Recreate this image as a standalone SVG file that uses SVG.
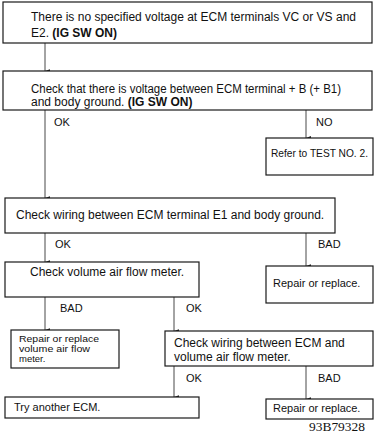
<svg xmlns="http://www.w3.org/2000/svg" width="375" height="433" viewBox="0 0 375 433">
<defs>
<marker id="ah" viewBox="0 0 6 8" refX="3" refY="8" markerWidth="4" markerHeight="5.5" orient="auto-start-reverse" markerUnits="userSpaceOnUse">
<path d="M0,0 L6,0 L3,8 Z" fill="#222"/>
</marker>
<style>
.box{fill:#fff;stroke:#1a1a1a;stroke-width:1.2}
.t{font-family:"Liberation Sans",Arial,sans-serif;font-size:12px;fill:#111}
.s{font-family:"Liberation Sans",Arial,sans-serif;font-size:11px;fill:#111}
.xs{font-family:"Liberation Sans",Arial,sans-serif;font-size:9.5px;fill:#111}
.lb{font-family:"Liberation Sans",Arial,sans-serif;font-size:11px;fill:#111}
.b{font-weight:bold}
.c{stroke:#333;stroke-width:0.9;fill:none}
.code{font-family:"Liberation Serif","Times New Roman",serif;font-size:12.5px;fill:#111}
</style>
</defs>
<rect width="375" height="433" fill="#fff"/>
<g id="connectors">
<line class="c" x1="45" y1="43" x2="45" y2="71" marker-end="url(#ah)"/>
<line class="c" x1="45" y1="110" x2="45" y2="198" marker-end="url(#ah)"/>
<line class="c" x1="306" y1="110" x2="306" y2="138" marker-end="url(#ah)"/>
<line class="c" x1="45" y1="233" x2="45" y2="262" marker-end="url(#ah)"/>
<line class="c" x1="306" y1="233" x2="306" y2="266" marker-end="url(#ah)"/>
<line class="c" x1="45" y1="297" x2="45" y2="330" marker-end="url(#ah)"/>
<line class="c" x1="174" y1="297" x2="174" y2="331" marker-end="url(#ah)"/>
<line class="c" x1="174" y1="366" x2="174" y2="397" marker-end="url(#ah)"/>
<line class="c" x1="306" y1="366" x2="306" y2="399" marker-end="url(#ah)"/>
<text class="lb" x="54" y="126">OK</text>
<text class="lb" x="316" y="126">NO</text>
<text class="lb" x="55" y="248">OK</text>
<text class="lb" x="318" y="248">BAD</text>
<text class="lb" x="60" y="312">BAD</text>
<text class="lb" x="186" y="312">OK</text>
<text class="lb" x="186" y="382">OK</text>
<text class="lb" x="318" y="382">BAD</text>
</g>
<g id="n1">
<rect class="box" x="3" y="2" width="369" height="41"/>
<text class="t" x="31" y="21" textLength="325" lengthAdjust="spacingAndGlyphs">There is no specified voltage at ECM terminals VC or VS and</text>
<text class="t" x="31" y="37">E2. <tspan class="b">(IG SW ON)</tspan></text>
</g>
<g id="n2">
<rect class="box" x="3" y="71" width="369" height="39"/>
<text class="t" x="31" y="93" textLength="310" lengthAdjust="spacingAndGlyphs">Check that there is voltage between ECM terminal + B (+ B1)</text>
<text class="t" x="31" y="106">and body ground. <tspan class="b">(IG SW ON)</tspan></text>
</g>
<g id="n3">
<rect class="box" x="266" y="138" width="107" height="37"/>
<text class="s" x="271" y="157" textLength="97" lengthAdjust="spacingAndGlyphs">Refer to TEST NO. 2.</text>
</g>
<g id="n4">
<rect class="box" x="5" y="198" width="330" height="35"/>
<text class="t" x="16" y="219">Check wiring between ECM terminal E1 and body ground.</text>
</g>
<g id="n5">
<rect class="box" x="5" y="262" width="194" height="35"/>
<text class="t" x="30" y="276">Check volume air flow meter.</text>
</g>
<g id="n6">
<rect class="box" x="266" y="266" width="107" height="37"/>
<text class="s" x="273" y="287">Repair or replace.</text>
</g>
<g id="n7">
<rect class="box" x="11" y="330" width="108" height="38"/>
<text class="xs" x="19" y="342" textLength="80" lengthAdjust="spacingAndGlyphs">Repair or replace</text>
<text class="xs" x="19" y="352" textLength="71" lengthAdjust="spacingAndGlyphs">volume air flow</text>
<text class="xs" x="19" y="362">meter.</text>
</g>
<g id="n8">
<rect class="box" x="165" y="331" width="208" height="35"/>
<text class="t" x="174" y="347">Check wiring between ECM and</text>
<text class="t" x="174" y="361">volume air flow meter.</text>
</g>
<g id="n9">
<rect class="box" x="5" y="397" width="194" height="21"/>
<text class="s" x="14" y="411">Try another ECM.</text>
</g>
<g id="n10">
<rect class="box" x="266" y="399" width="107" height="20"/>
<text class="s" x="273" y="412">Repair or replace.</text>
</g>
<text class="code" x="309" y="431" textLength="56" lengthAdjust="spacingAndGlyphs">93B79328</text>
</svg>
